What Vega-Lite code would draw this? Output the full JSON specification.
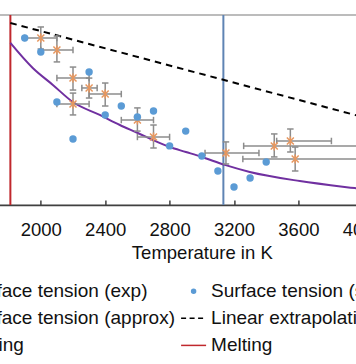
{
  "$schema": "https://vega.github.io/schema/vega-lite/v6.json",
  "width": 450.8,
  "height": 190,
  "autosize": {"type": "none"},
  "padding": {"left": -23.6, "top": 15, "right": -71.2, "bottom": 159},
  "background": "white",
  "config": {
    "font": "Liberation Sans",
    "view": {"stroke": "#A6A6A6", "strokeWidth": 1.5}
  },
  "datasets": {
    "phase": [
      {"series": "Melting", "T": 1811},
      {"series": "Boiling", "T": 3134}
    ],
    "linear": [
      {"series": "Linear extrapolation", "T": 1811, "s": 1.958},
      {"series": "Linear extrapolation", "T": 4000, "s": 1.463}
    ],
    "approx": [
      {"series": "Surface tension (approx)", "T": 1811, "s": 1.853},
      {"series": "Surface tension (approx)", "T": 1950, "s": 1.721},
      {"series": "Surface tension (approx)", "T": 2075, "s": 1.632},
      {"series": "Surface tension (approx)", "T": 2199, "s": 1.542},
      {"series": "Surface tension (approx)", "T": 2366, "s": 1.474},
      {"series": "Surface tension (approx)", "T": 2491, "s": 1.421},
      {"series": "Surface tension (approx)", "T": 2602, "s": 1.379},
      {"series": "Surface tension (approx)", "T": 2696, "s": 1.342},
      {"series": "Surface tension (approx)", "T": 2801, "s": 1.305},
      {"series": "Surface tension (approx)", "T": 2901, "s": 1.279},
      {"series": "Surface tension (approx)", "T": 3000, "s": 1.253},
      {"series": "Surface tension (approx)", "T": 3143, "s": 1.211},
      {"series": "Surface tension (approx)", "T": 3298, "s": 1.174},
      {"series": "Surface tension (approx)", "T": 3609, "s": 1.126},
      {"series": "Surface tension (approx)", "T": 3950, "s": 1.089},
      {"series": "Surface tension (approx)", "T": 4000, "s": 1.084}
    ],
    "exp": [
      {"series": "Surface tension (exp)", "T": 2000, "Tlo": 1900, "Thi": 2100, "s": 1.879, "slo": 1.821, "shi": 1.937},
      {"series": "Surface tension (exp)", "T": 2100, "Tlo": 2000, "Thi": 2200, "s": 1.816, "slo": 1.753, "shi": 1.889},
      {"series": "Surface tension (exp)", "T": 2200, "Tlo": 2100, "Thi": 2300, "s": 1.668, "slo": 1.605, "shi": 1.726},
      {"series": "Surface tension (exp)", "T": 2300, "Tlo": 2255, "Thi": 2350, "s": 1.616, "slo": 1.563, "shi": 1.668},
      {"series": "Surface tension (exp)", "T": 2400, "Tlo": 2300, "Thi": 2500, "s": 1.584, "slo": 1.521, "shi": 1.642},
      {"series": "Surface tension (exp)", "T": 2200, "Tlo": 2100, "Thi": 2300, "s": 1.532, "slo": 1.474, "shi": 1.589},
      {"series": "Surface tension (exp)", "T": 2600, "Tlo": 2500, "Thi": 2700, "s": 1.447, "slo": 1.389, "shi": 1.511},
      {"series": "Surface tension (exp)", "T": 2700, "Tlo": 2600, "Thi": 2800, "s": 1.358, "slo": 1.300, "shi": 1.421},
      {"series": "Surface tension (exp)", "T": 3150, "Tlo": 3020, "Thi": 3355, "s": 1.274, "slo": 1.216, "shi": 1.332},
      {"series": "Surface tension (exp)", "T": 3450, "Tlo": 3260, "Thi": 4100, "s": 1.311, "slo": 1.253, "shi": 1.374},
      {"series": "Surface tension (exp)", "T": 3550, "Tlo": 3465, "Thi": 3805, "s": 1.337, "slo": 1.279, "shi": 1.400},
      {"series": "Surface tension (exp)", "T": 3580, "Tlo": 3255, "Thi": 4100, "s": 1.242, "slo": 1.179, "shi": 1.305}
    ],
    "sim": [
      {"series": "Surface tension (sim)", "T": 1900, "s": 1.879},
      {"series": "Surface tension (sim)", "T": 2000, "s": 1.805},
      {"series": "Surface tension (sim)", "T": 2100, "s": 1.542},
      {"series": "Surface tension (sim)", "T": 2200, "s": 1.347},
      {"series": "Surface tension (sim)", "T": 2300, "s": 1.700},
      {"series": "Surface tension (sim)", "T": 2400, "s": 1.474},
      {"series": "Surface tension (sim)", "T": 2500, "s": 1.521},
      {"series": "Surface tension (sim)", "T": 2600, "s": 1.463},
      {"series": "Surface tension (sim)", "T": 2700, "s": 1.495},
      {"series": "Surface tension (sim)", "T": 2800, "s": 1.311},
      {"series": "Surface tension (sim)", "T": 2900, "s": 1.389},
      {"series": "Surface tension (sim)", "T": 3000, "s": 1.258},
      {"series": "Surface tension (sim)", "T": 3100, "s": 1.179},
      {"series": "Surface tension (sim)", "T": 3200, "s": 1.095},
      {"series": "Surface tension (sim)", "T": 3300, "s": 1.142},
      {"series": "Surface tension (sim)", "T": 3400, "s": 1.226}
    ]
  },
  "encoding": {
    "x": {
      "field": "T", "type": "quantitative",
      "scale": {"domain": [1600, 4400], "nice": false, "zero": false},
      "axis": {
        "values": [2000, 2400, 2800, 3200, 3600, 4000],
        "format": "d",
        "grid": false,
        "title": "Temperature in K",
        "labelFontSize": 18.5, "labelColor": "#111111", "labelFont": "Liberation Sans",
        "titleFontSize": 18.5, "titleColor": "#111111", "titleFont": "Liberation Sans", "titleFontWeight": "normal",
        "tickSize": -5, "tickColor": "#404040", "tickWidth": 1.5,
        "domainColor": "#404040", "domainWidth": 1.5,
        "labelPadding": 20, "titlePadding": 5
      }
    }
  },
  "layer": [
    {
      "data": {"name": "phase"},
      "mark": {"type": "rule", "strokeWidth": 2},
      "encoding": {
        "color": {
          "field": "series", "type": "nominal",
          "scale": {
            "domain": ["Surface tension (exp)", "Surface tension (sim)", "Surface tension (approx)", "Linear extrapolation", "Boiling", "Melting"],
            "range": ["#E7975F", "#5B9BD5", "#7030A0", "#000000", "#5F84B4", "#C0282D"]
          },
          "legend": {
            "orient": "none", "legendX": -40.5, "legendY": 262.5,
            "direction": "horizontal",
            "columns": 2, "columnPadding": 2.2, "rowPadding": 3.2, "padding": 0,
            "title": null,
            "labelFont": "Liberation Sans", "labelFontSize": 19, "labelColor": "#111111", "labelLimit": 400, "labelOffset": 4,
            "symbolSize": 625, "symbolStrokeWidth": 2, "symbolType": "stroke",
            "encode": {
              "symbols": {
                "update": {
                  "shape": {"signal": "datum.value === 'Surface tension (sim)' ? 'M-0.16,0A0.16,0.16,0,1,1,0.16,0A0.16,0.16,0,1,1,-0.16,0Z' : datum.value === 'Surface tension (exp)' ? 'M-0.3,-0.3L0.3,0.3M-0.3,0.3L0.3,-0.3M0,-0.35L0,0.35' : 'stroke'"},
                  "fill": {"signal": "datum.value === 'Surface tension (sim)' ? '#5B9BD5' : 'transparent'"},
                  "stroke": {"signal": "datum.value === 'Surface tension (sim)' ? 'transparent' : datum.value === 'Surface tension (exp)' ? '#E7975F' : datum.value === 'Surface tension (approx)' ? '#7030A0' : datum.value === 'Linear extrapolation' ? '#000000' : datum.value === 'Boiling' ? '#5F84B4' : '#C0282D'"},
                  "strokeDash": {"signal": "datum.value === 'Linear extrapolation' ? [5, 3.5] : []"},
                  "strokeWidth": {"value": 1.5},
                  "size": {"value": 625},
                  "opacity": {"value": 1}
                }
              }
            }
          }
        }
      }
    },
    {
      "data": {"name": "linear"},
      "mark": {"type": "line", "strokeWidth": 2, "strokeDash": [6.5, 5]},
      "encoding": {
        "y": {"field": "s", "type": "quantitative", "scale": {"domain": [1, 2], "nice": false, "zero": false}, "axis": null},
        "color": {"field": "series", "type": "nominal"}
      }
    },
    {
      "data": {"name": "approx"},
      "mark": {"type": "line", "strokeWidth": 2, "interpolate": "monotone"},
      "encoding": {
        "y": {"field": "s", "type": "quantitative"},
        "color": {"field": "series", "type": "nominal"}
      }
    },
    {
      "data": {"name": "exp"},
      "mark": {"type": "rule", "color": "#8C8C8C", "strokeWidth": 1.5},
      "encoding": {
        "x": {"field": "Tlo", "type": "quantitative"},
        "x2": {"field": "Thi"},
        "y": {"field": "s", "type": "quantitative"}
      }
    },
    {
      "data": {"name": "exp"},
      "mark": {"type": "rule", "color": "#8C8C8C", "strokeWidth": 1.5},
      "encoding": {
        "y": {"field": "slo", "type": "quantitative"},
        "y2": {"field": "shi"}
      }
    },
    {
      "data": {"name": "exp"},
      "mark": {"type": "point", "shape": "stroke", "filled": false, "color": "#8C8C8C", "strokeWidth": 1.5, "size": 42, "opacity": 1, "angle": 90},
      "encoding": {
        "x": {"field": "Tlo", "type": "quantitative"},
        "y": {"field": "s", "type": "quantitative"}
      }
    },
    {
      "data": {"name": "exp"},
      "mark": {"type": "point", "shape": "stroke", "filled": false, "color": "#8C8C8C", "strokeWidth": 1.5, "size": 42, "opacity": 1, "angle": 90},
      "encoding": {
        "x": {"field": "Thi", "type": "quantitative"},
        "y": {"field": "s", "type": "quantitative"}
      }
    },
    {
      "data": {"name": "exp"},
      "mark": {"type": "point", "shape": "stroke", "filled": false, "color": "#8C8C8C", "strokeWidth": 1.5, "size": 42, "opacity": 1},
      "encoding": {
        "y": {"field": "slo", "type": "quantitative"}
      }
    },
    {
      "data": {"name": "exp"},
      "mark": {"type": "point", "shape": "stroke", "filled": false, "color": "#8C8C8C", "strokeWidth": 1.5, "size": 42, "opacity": 1},
      "encoding": {
        "y": {"field": "shi", "type": "quantitative"}
      }
    },
    {
      "data": {"name": "exp"},
      "mark": {"type": "point", "shape": "M-0.7,-0.7L0.7,0.7M-0.7,0.7L0.7,-0.7M0,-0.9L0,0.9", "filled": false, "strokeWidth": 1.5, "size": 100, "opacity": 1},
      "encoding": {
        "y": {"field": "s", "type": "quantitative"},
        "color": {"field": "series", "type": "nominal"}
      }
    },
    {
      "data": {"name": "sim"},
      "mark": {"type": "point", "shape": "circle", "filled": true, "size": 55, "opacity": 1},
      "encoding": {
        "y": {"field": "s", "type": "quantitative"},
        "color": {"field": "series", "type": "nominal"}
      }
    }
  ]
}
